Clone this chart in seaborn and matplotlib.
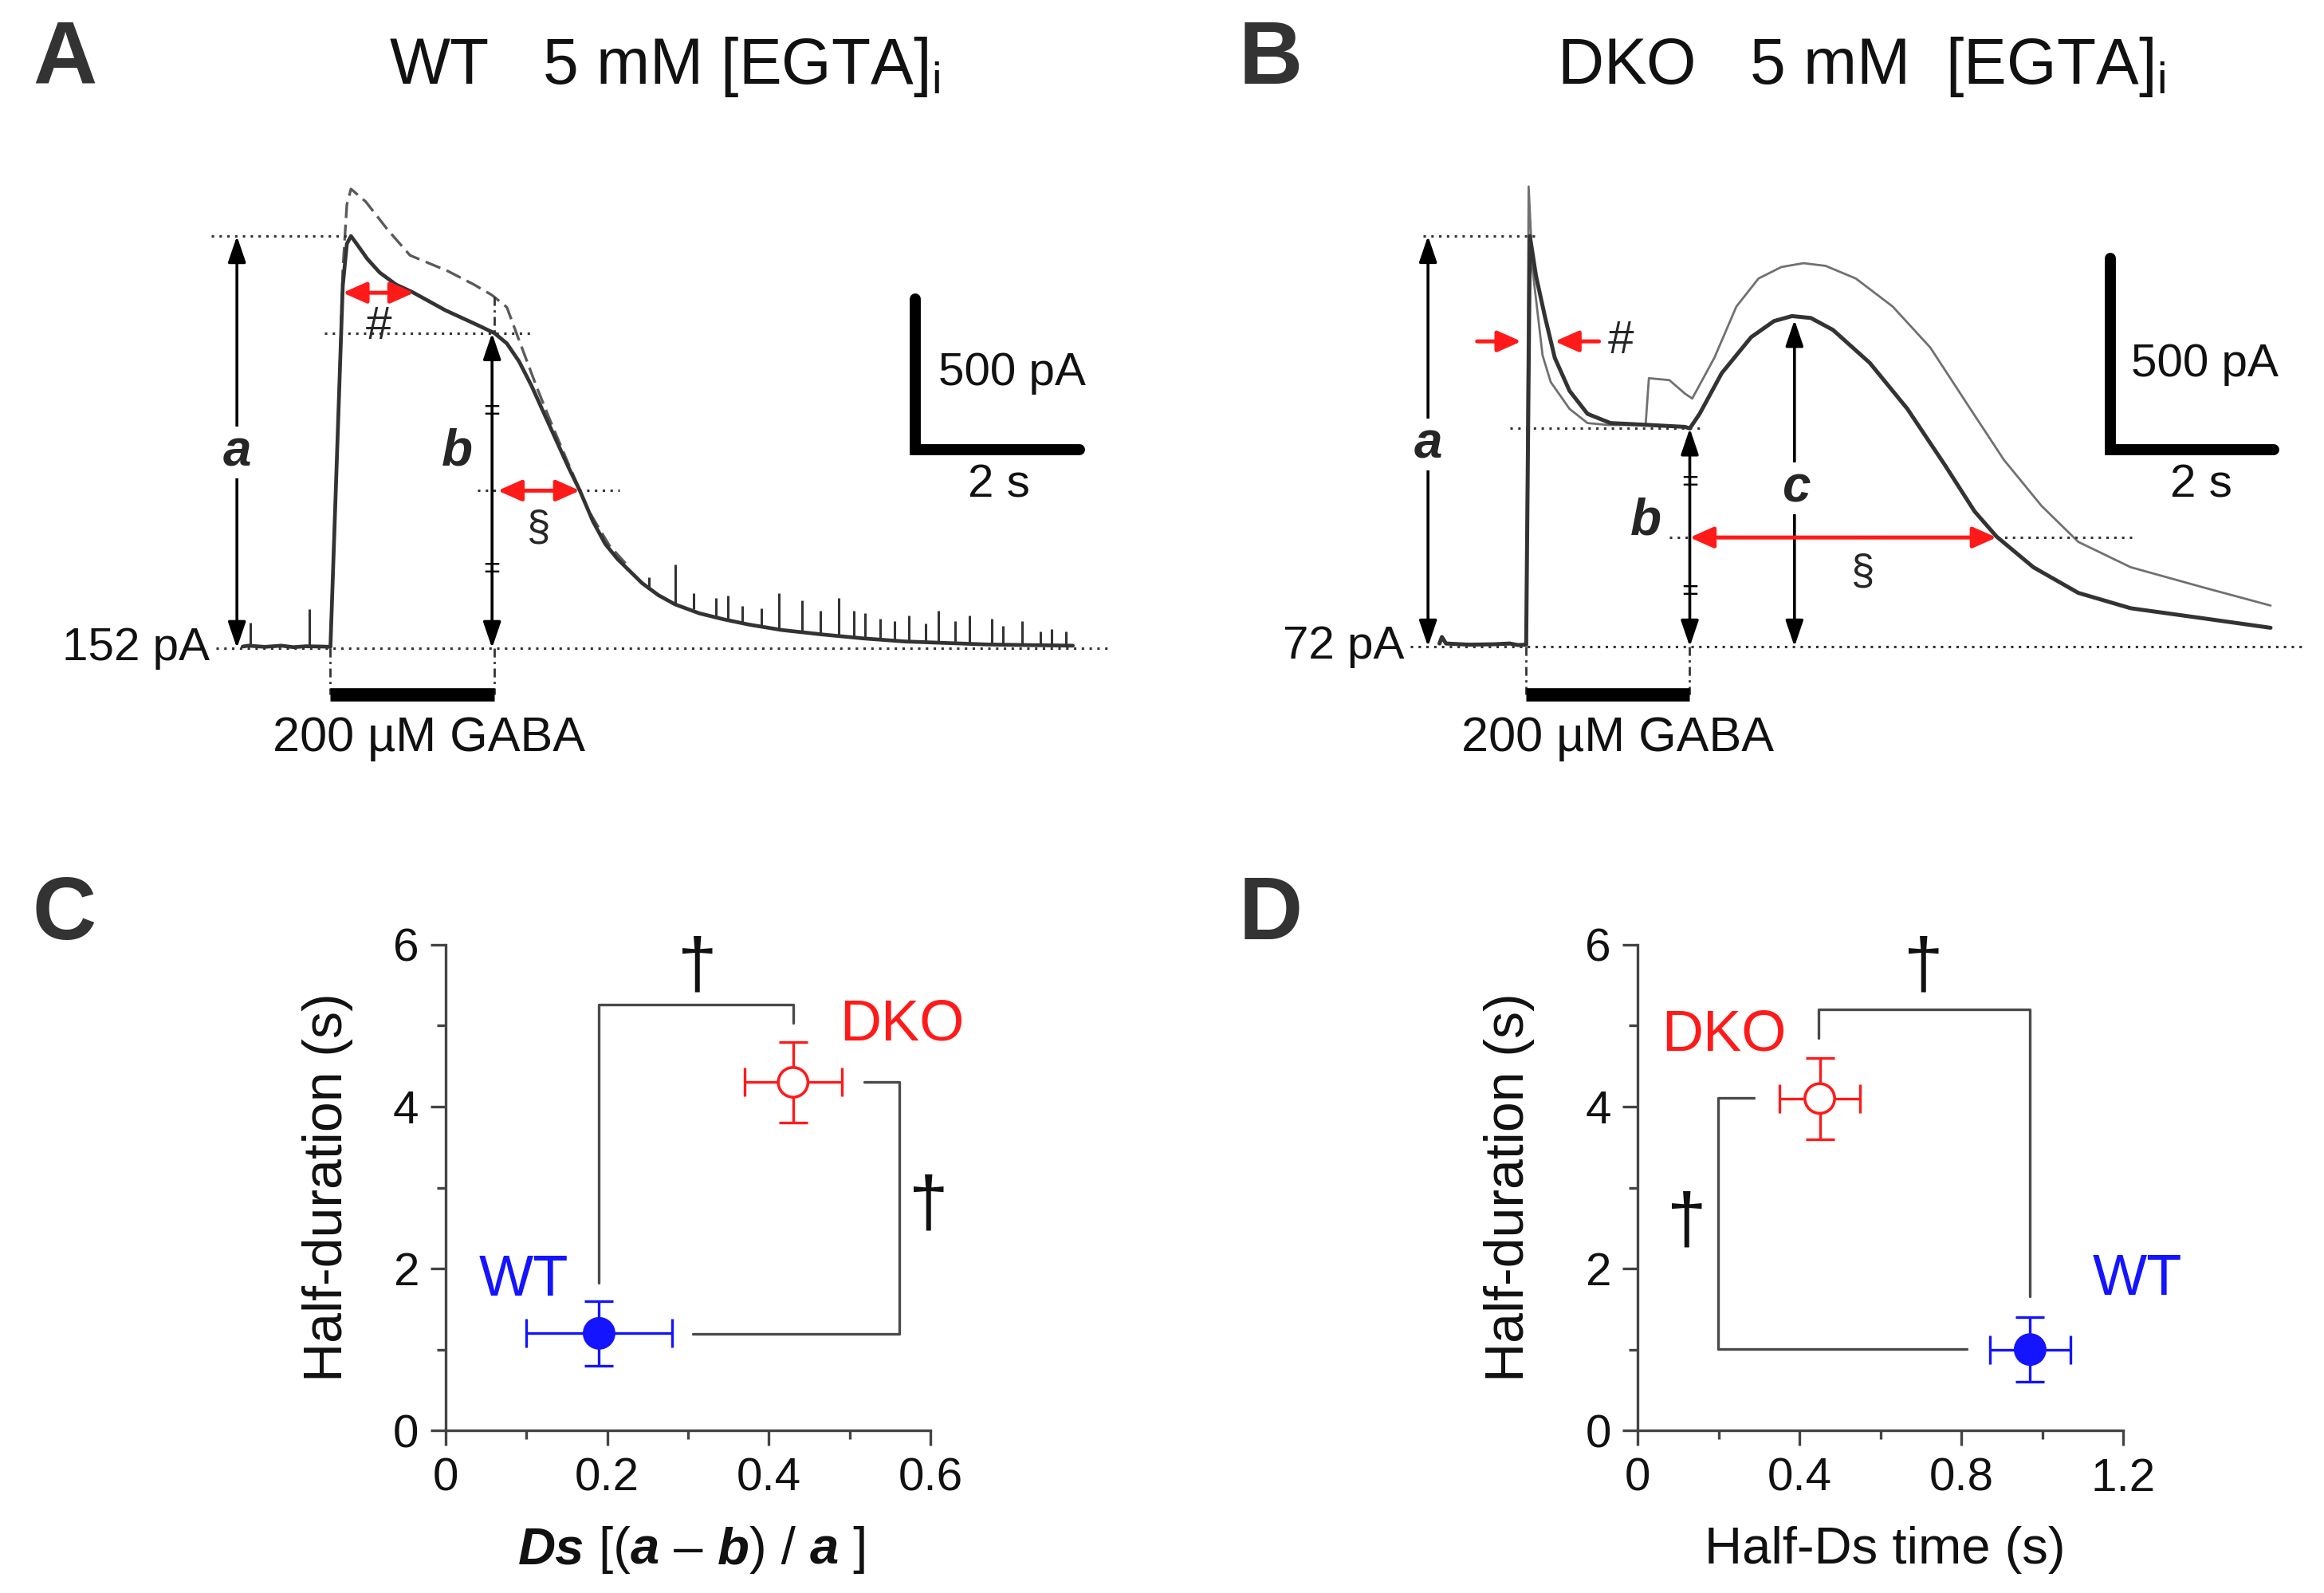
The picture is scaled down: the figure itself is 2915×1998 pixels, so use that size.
import matplotlib
matplotlib.use('Agg')
import matplotlib.pyplot as plt
import seaborn as sns
from matplotlib.offsetbox import TextArea, HPacker, AnnotationBbox

# ---------------- data ----------------
# Panel A (WT, 5 mM EGTA): time (s) from GABA onset, current (pA) above holding level
wt_t = [-1.07, -1.0, -0.8, -0.6, -0.45, -0.3, -0.1, 0.0, 0.1, 0.15, 0.2, 0.25, 0.32, 0.45,
        0.6, 0.8, 1.0, 1.2, 1.4, 1.6, 1.8, 2.0, 2.15, 2.3, 2.45, 2.6, 2.75, 2.9, 3.04,
        3.2, 3.35, 3.5, 3.65, 3.8, 4.0, 4.2, 4.5, 4.8, 5.1, 5.5, 6.0, 6.5, 7.0, 7.5,
        8.0, 8.5, 9.05]
wt_i = [5, 8, 4, 8, 3, 6, 5, 4, 800, 1200, 1340, 1366, 1340, 1290,
        1245, 1205, 1180, 1150, 1120, 1095, 1070, 1044, 1010, 950, 870, 780, 690, 600, 522,
        420, 345, 295, 255, 215, 175, 145, 115, 95, 78, 60, 45, 32, 22, 17,
        12, 10, 8]
# lighter (dashed) WT trace
wt2_t = [0.0, 0.1, 0.15, 0.2, 0.25, 0.43, 0.7, 0.97, 1.43, 1.75, 1.97, 2.15, 2.3, 2.52,
         2.7, 2.88, 3.15, 3.4, 3.6]
wt2_i = [4, 800, 1250, 1470, 1522, 1480, 1386, 1302, 1250, 1205, 1170, 1130, 1020, 861,
         740, 624, 454, 340, 280]
# spontaneous spikes on the WT trace
spk_t = [-0.98, -0.26, 3.88, 4.20, 4.43, 4.70, 4.84, 5.02, 5.25, 5.47, 5.75, 5.97, 6.20,
         6.38, 6.52, 6.70, 6.88, 7.05, 7.25, 7.41, 7.61, 7.79, 8.06, 8.20, 8.43, 8.65,
         8.79, 8.97]
spk_base = [6, 6, 200, 145, 130, 105, 95, 85, 75, 62, 55, 45, 40,
            36, 33, 30, 25, 22, 20, 18, 16, 14, 12, 11, 10, 9, 9, 8]
spk_tip = [85, 130, 234, 276, 183, 166, 175, 141, 132, 183, 158, 124, 166,
           124, 115, 98, 90, 107, 81, 124, 90, 107, 98, 73, 90, 56, 64, 56]

# Panel B (DKO, 5 mM EGTA)
dko_t = [-1.06, -1.03, -0.98, -0.7, -0.4, -0.2, -0.1, 0.0, 0.045, 0.12, 0.23, 0.35, 0.53,
         0.75, 1.03, 1.5, 1.94, 2.0, 2.12, 2.39, 2.75, 3.03, 3.25, 3.48, 3.75, 4.2, 4.66,
         5.12, 5.48, 5.75, 6.2, 6.75, 7.39, 8.3, 9.1]
dko_i = [8, 25, 8, 5, 6, 8, 4, 5, 1071, 967, 860, 753, 667,
         607, 583, 578, 573, 569, 607, 713, 807, 849, 862, 857, 826, 740, 620,
         473, 353, 287, 207, 140, 100, 73, 49]
dko2_t = [0.0, 0.03, 0.08, 0.2, 0.3, 0.53, 0.75, 1.0, 1.46, 1.5, 1.75, 1.94, 2.03, 2.3,
          2.57, 2.84, 3.12, 3.39, 3.66, 4.03, 4.48, 4.94, 5.39, 5.84, 6.3, 6.75, 7.39,
          8.3, 9.1]
dko2_i = [5, 1200, 980, 760, 690, 620, 583, 578, 578, 700, 695, 660, 647, 753,
          887, 960, 990, 1000, 993, 960, 887, 780, 633, 487, 367, 273, 207,
          153, 107]
amp_a = [1366, 1071]   # peak (a) for WT, DKO
amp_b = [1044, 569]    # current at end of GABA (b)
amp_c = 860            # DKO second peak (c)

# Panel C: Ds vs half-duration
c_groups = ['WT', 'DKO']
c_x = [0.19, 0.43]
c_xerr = [0.09, 0.06]
c_y = [1.2, 4.3]
c_yerr = [0.4, 0.5]
# Panel D: half-Ds time vs half-duration
d_x = [0.97, 0.45]
d_xerr = [0.10, 0.10]
d_y = [1.0, 4.1]
d_yerr = [0.4, 0.5]

# ---------------- style ----------------
sns.set_theme(style='ticks')
plt.rcParams['font.family'] = ['Liberation Sans', 'DejaVu Sans']
plt.rcParams['mathtext.fontset'] = 'custom'
plt.rcParams['mathtext.rm'] = 'Liberation Sans'
plt.rcParams['mathtext.it'] = 'Liberation Sans:italic'

INK = '#333333'
RED = '#ff1a1a'
BLUE = '#1414ff'

fig = plt.figure(figsize=(14.575, 9.99), dpi=200)
fig.patch.set_facecolor('white')

for lab, x, y in [('A', 0.014, 0.962), ('B', 0.533, 0.962), ('C', 0.014, 0.425), ('D', 0.533, 0.425)]:
    fig.text(x, y, lab, fontsize=40, fontweight='bold', color=INK, ha='left', va='center')

fig.text(0.286, 0.958, r'WT   5 mM [EGTA]$_\mathrm{i}$', fontsize=29, ha='center', va='center', color='#111')
fig.text(0.801, 0.958, r'DKO   5 mM  [EGTA]$_\mathrm{i}$', fontsize=29, ha='center', va='center', color='#111')

dot = dict(color=INK, lw=1.1, ls=(0, (1, 2.2)))
dashdot = dict(color=INK, lw=1.0, ls=(0, (4, 2, 1, 2)))


def darrow(ax, x0, y0, x1, y1, color='black', lw=1.3, hl=0.5, hw=0.17):
    ax.annotate('', xy=(x1, y1), xytext=(x0, y0),
                arrowprops=dict(arrowstyle=f'<|-|>,head_length={hl},head_width={hw}',
                                color=color, lw=lw, shrinkA=0, shrinkB=0, mutation_scale=20))


def sarrow(ax, x0, y0, x1, y1, color=RED, lw=1.8):
    ax.annotate('', xy=(x1, y1), xytext=(x0, y0),
                arrowprops=dict(arrowstyle='-|>,head_length=0.45,head_width=0.2',
                                color=color, lw=lw, shrinkA=0, shrinkB=0, mutation_scale=20))


def equal_marks(ax, x, amp):
    for frac in (0.25, 0.75):
        ax.text(x, frac * amp, '=', fontsize=13, ha='center', va='center', color='black')


# ---------------- Panel A ----------------
axA = fig.add_axes([0.07, 0.50, 0.42, 0.42])
axA.set_xlim(-2.045, 9.853)
axA.set_ylim(-492, 1726)
axA.axis('off')
sns.lineplot(x=wt2_t, y=wt2_i, ax=axA, color='#5a5a5a', lw=1.2, linestyle=(0, (6, 2.5)), estimator=None)
sns.lineplot(x=wt_t, y=wt_i, ax=axA, color=INK, lw=1.7, estimator=None)
axA.vlines(spk_t, spk_base, spk_tip, color=INK, lw=1.1)

a, b = amp_a[0], amp_b[0]
axA.plot([-1.45, 0.25], [a, a], **dot)
axA.plot([-0.07, 2.43], [b, b], **dot)
axA.plot([1.79, 3.52], [b / 2, b / 2], **dot)
axA.plot([-1.39, 9.52], [0, 0], **dot)
axA.plot([0, 0], [0, -153], **dashdot)
axA.plot([2, 2], [0, -153], **dashdot)
axA.plot([2, 2], [1166, b], **dashdot)
axA.plot([0, 2], [-153, -153], color='black', lw=6, solid_capstyle='butt')
axA.text(1.2, -300, '200 µM GABA', fontsize=22, ha='center', va='center', color='#111')
axA.text(-1.47, 0, '152 pA', fontsize=21, ha='right', va='center', color='#111')

darrow(axA, -1.14, 0, -1.14, a)
axA.text(-1.14, 649, 'a', fontsize=23, fontweight='bold', fontstyle='italic', ha='center', va='center',
         bbox=dict(fc='white', ec='none', pad=1))
darrow(axA, 1.97, 0, 1.97, b)
equal_marks(axA, 1.97, b)
axA.text(1.54, 650, 'b', fontsize=23, fontweight='bold', fontstyle='italic', ha='center', va='center')

darrow(axA, 0.15, 1178, 1.02, 1178, color=RED, lw=1.8, hl=0.45, hw=0.2)
axA.text(0.59, 1064, '#', fontsize=21, ha='center', va='center')
darrow(axA, 2.04, b / 2, 3.04, b / 2, color=RED, lw=1.8, hl=0.45, hw=0.2)
axA.text(2.54, 395, '§', fontsize=19, ha='center', va='center')

axA.plot([7.13, 7.13, 9.13], [1158, 658, 658], color='black', lw=5, solid_joinstyle='miter')
axA.text(7.41, 912, '500 pA', fontsize=21, ha='left', va='center', color='#111')
axA.text(8.15, 539, '2 s', fontsize=21, ha='center', va='center', color='#111')

# ---------------- Panel B ----------------
axB = fig.add_axes([0.585, 0.50, 0.415, 0.42])
axB.set_xlim(-2.037, 9.753)
axB.set_ylim(-391, 1354)
axB.axis('off')
sns.lineplot(x=dko2_t, y=dko2_i, ax=axB, color='#707070', lw=1.0, estimator=None)
sns.lineplot(x=dko_t, y=dko_i, ax=axB, color=INK, lw=1.8, estimator=None)

a, b = amp_a[1], amp_b[1]
axB.plot([-1.26, 0.12], [a, a], **dot)
axB.plot([-0.2, 2.16], [b, b], **dot)
axB.plot([1.75, 7.44], [b / 2, b / 2], **dot)
axB.plot([-1.42, 9.48], [0, 0], **dot)
axB.plot([0, 0], [0, -124], **dashdot)
axB.plot([2, 2], [0, -124], **dashdot)
axB.plot([0, 2], [-124, -124], color='black', lw=6, solid_capstyle='butt')
axB.text(1.12, -240, '200 µM GABA', fontsize=22, ha='center', va='center', color='#111')
axB.text(-1.49, 0, '72 pA', fontsize=21, ha='right', va='center', color='#111')

darrow(axB, -1.2, 0, -1.2, a)
axB.text(-1.2, 527, 'a', fontsize=23, fontweight='bold', fontstyle='italic', ha='center', va='center',
         bbox=dict(fc='white', ec='none', pad=1))
darrow(axB, 2.0, 0, 2.0, b)
equal_marks(axB, 2.0, b)
axB.text(1.46, 327, 'b', fontsize=23, fontweight='bold', fontstyle='italic', ha='center', va='center')
darrow(axB, 3.28, 0, 3.28, amp_c - 8)
axB.text(3.3, 413, 'c', fontsize=23, fontweight='bold', fontstyle='italic', ha='center', va='center',
         bbox=dict(fc='white', ec='none', pad=1))

sarrow(axB, -0.6, 796, -0.06, 796)
sarrow(axB, 0.89, 796, 0.35, 796)
axB.text(1.0, 796, '#', fontsize=21, ha='left', va='center')
darrow(axB, 2.0, b / 2, 5.75, b / 2, color=RED, lw=1.8, hl=0.45, hw=0.2)
axB.text(4.12, 193, '§', fontsize=19, ha='center', va='center')

axB.plot([7.14, 7.14, 9.14], [1013, 513, 513], color='black', lw=5, solid_joinstyle='miter')
axB.text(7.39, 737, '500 pA', fontsize=21, ha='left', va='center', color='#111')
axB.text(8.25, 420, '2 s', fontsize=21, ha='center', va='center', color='#111')


# ---------------- Panels C and D ----------------
def scatter_panel(ax, xs, xerr, ys, yerr, xmax, xticks, xminor, ylab_x):
    ax.set_xlim(0, xmax)
    ax.set_ylim(0, 6)
    sns.despine(ax=ax)
    for sp in ('left', 'bottom'):
        ax.spines[sp].set_color('#444')
        ax.spines[sp].set_linewidth(1.2)
    ax.set_xticks(xticks)
    ax.set_xticks(xminor, minor=True)
    ax.set_yticks([0, 2, 4, 6])
    ax.set_yticks([1, 3, 5], minor=True)
    ax.set_yticklabels(['0', '2', '4', '6'])
    ax.tick_params(which='major', direction='out', length=7, width=1.2, color='#444',
                   labelsize=21, labelcolor='#111', pad=5)
    ax.tick_params(which='minor', direction='out', length=4, width=1.2, color='#444')
    ax.set_facecolor('white')
    cols = [BLUE, RED]
    faces = [BLUE, 'white']
    for i in range(2):
        ax.errorbar(xs[i], ys[i], xerr=xerr[i], yerr=yerr[i], fmt='none', ecolor=cols[i],
                    elinewidth=1.2, capsize=6.5, capthick=1.2, zorder=2)
    sns.scatterplot(x=xs, y=ys, hue=c_groups, palette=cols, ax=ax, s=180, legend=False,
                    zorder=3, linewidth=1.3, edgecolor=cols, clip_on=False)
    ax.collections[-1].set_facecolors(faces)
    ax.set_ylabel('Half-duration (s)', fontsize=24.5, color='#111')
    ax.yaxis.set_label_coords(ylab_x, 0.5)


bracket = dict(color='#4a4a4a', lw=1.2)
dag = dict(fontsize=32, ha='center', va='center', color='#111')

axC = fig.add_axes([0.1917, 0.102, 0.2087, 0.305])
scatter_panel(axC, c_x, c_xerr, c_y, c_yerr, 0.6, [0, 0.2, 0.4, 0.6], [0.1, 0.3, 0.5], -0.19)
axC.set_xticklabels(['0', '0.2', '0.4', '0.6'])
axC.plot([0.19, 0.19, 0.43, 0.43], [1.82, 5.26, 5.26, 5.03], **bracket)
axC.plot([0.518, 0.561, 0.561, 0.306], [4.3, 4.3, 1.19, 1.19], **bracket, clip_on=False)
axC.text(0.312, 5.7, '†', **dag)
axC.text(0.598, 2.75, '†', clip_on=False, **dag)
axC.text(0.097, 1.85, 'WT', fontsize=26, color=BLUE, ha='center', va='center')
axC.text(0.565, 5.0, 'DKO', fontsize=26, color=RED, ha='center', va='center')

parts = [('Ds', True), (' [(', False), ('a', True), (' – ', False), ('b', True),
         (') / ', False), ('a', True), (' ]', False)]
boxes = [TextArea(s, textprops=dict(fontsize=23.5, color='#111',
                                    fontweight='bold' if bi else 'normal',
                                    fontstyle='italic' if bi else 'normal')) for s, bi in parts]
xl = HPacker(children=boxes, align='baseline', pad=0, sep=0)
axC.add_artist(AnnotationBbox(xl, (0.51, -0.246), xycoords='axes fraction', frameon=False,
                              box_alignment=(0.5, 0.5), annotation_clip=False))

axD = fig.add_axes([0.7047, 0.102, 0.2089, 0.305])
scatter_panel(axD, d_x, d_xerr, d_y, d_yerr, 1.2, [0, 0.4, 0.8, 1.2], [0.2, 0.6, 1.0], -0.212)
axD.set_xticklabels(['0', '0.4', '0.8', '1.2'])
axD.plot([0.447, 0.447, 0.97, 0.97], [4.85, 5.2, 5.2, 1.66], **bracket)
axD.plot([0.287, 0.198, 0.198, 0.814], [4.11, 4.11, 1.01, 1.01], **bracket)
axD.text(0.707, 5.7, '†', **dag)
axD.text(0.121, 2.55, '†', **dag)
axD.text(0.213, 4.88, 'DKO', fontsize=26, color=RED, ha='center', va='center')
axD.text(1.235, 1.86, 'WT', fontsize=26, color=BLUE, ha='center', va='center')
axD.set_xlabel('Half-Ds time (s)', fontsize=23.5, color='#111', va='center')
axD.xaxis.set_label_coords(0.509, -0.246)

fig.savefig('out.png', dpi=200, facecolor='white')
